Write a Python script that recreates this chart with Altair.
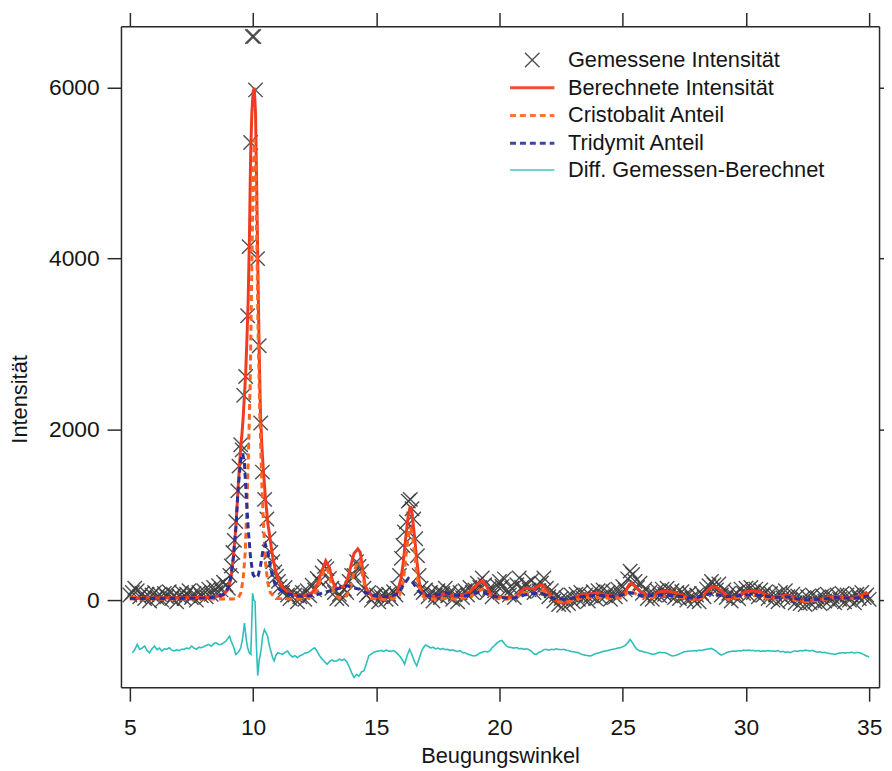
import altair as alt
import pandas as pd

FONT = "Liberation Sans"

S_MEAS = "Gemessene Intensität"
S_CALC = "Berechnete Intensität"
S_CRIS = "Cristobalit Anteil"
S_TRID = "Tridymit Anteil"
S_DIFF = "Diff. Gemessen-Berechnet"
series_names = [S_MEAS, S_CALC, S_CRIS, S_TRID, S_DIFF]
series_colors = ["#3c3c3c", "#f13a20", "#ff6421", "#2b2f9e", "#2dbfb9"]
series_dash = [[1, 0], [1, 0], [6, 4], [6, 4], [1, 0]]
series_width = [1.4, 3.0, 3.0, 3.0, 1.6]
series_shape = ["M-0.65,-0.65L0.65,0.65M-0.65,0.65L0.65,-0.65",
                "M-2,0L2,0", "M-2,0L2,0", "M-2,0L2,0", "M-2,0L2,0"]

x_ticks = [5, 10, 15, 20, 25, 30, 35]
y_ticks = [0, 2000, 4000, 6000]

# ---------------- measured intensity (X markers) ----------------
meas_a = [60, 90, 140, 110, 40, 80, 20, 70, -10, 60,
          90, 30, 70, 0, 80, 40, 100, 20, 60, -20,
          50, 90, 20, 70, 110, 30, 80, 0, 90, 50,
          110, 40, 130, 70, 150, 90, 170, 120, 210]          # 5.0 .. 8.8
peak1_x = [8.9, 9.0, 9.06, 9.12, 9.18, 9.24, 9.3, 9.38, 9.43, 9.5, 9.56, 9.62,
           9.7, 9.78, 9.84, 9.9, 9.97, 10.03, 10.1, 10.18, 10.25, 10.31, 10.38,
           10.47, 10.56, 10.65, 10.72, 10.8, 10.88, 10.95, 11.03, 11.1]
peak1_y = [180, 140, 290, 400, 560, 700, 920, 1280, 1570, 1820, 1760, 2400,
           2620, 3330, 4140, 5360, 6600, 6600, 5975, 4000, 2980, 2075, 1500,
           1180, 950, 720, 560, 450, 330, 280, 220, 160]
meas_b = [90, 150, 60, 20, 90, 60, -20, 40,
          90, 10, 110, 50, 175, 120, 255, 220, 320, 395,
          370, 255, 140, 90, 20, 70, 10, 130, 90, 220,
          290, 290, 450, 395, 335, 140, 60, 90, 0, 50,
          60, -20, 40, 80, 10, 70, 20, 100]                    # 11.2 .. 15.7
peak3_x = [15.8, 15.87, 15.94, 16.02, 16.08, 16.14, 16.22, 16.3, 16.38, 16.45,
           16.52, 16.6, 16.67, 16.74, 16.82, 16.9]
peak3_y = [60, 140, 290, 490, 640, 800, 915, 1160, 1180, 1070,
           950, 720, 520, 290, 140, 90]
meas_c = [120, 40, 90, -10, 60, 110, 30, 80, 140, 50,
          100, 10, 70, -20, 90, 30, 110, 60, 150, 90,
          120, 200, 150, 260, 180, 90, 140, 40, 110, 170,
          220, 160, 250, 120, 60, 140, 30, 180, 260, 150,
          100, 190, 120, 230, 90, 170, 110, 200, 260, 140,
          40, 110, -10, 60, -50, 20, -60, 30, -40, 60,
          -20, 70, 10, 90, 20, 60, -10, 50, 100, 20,
          110, 30, 120, 50, 90, 10, 100, 40, 130, 70,
          160, 120, 250, 340, 300, 220, 150, 200, 80, 130,
          20, 90, 10, 60, 110, 50, 130, 70, 140, 60,
          110, 30, 90, 20, 100, 50, 0, 80, 30, -10,
          60, -20, 80, 40, 130, 170, 220, 180, 120, 190,
          60, 120, 30, 80, -10, 50, 90, 20, 130, 80,
          140, 60, 150, 90, 130, 40, 120, 60, 100, 20,
          80, 0, 60, -20, 90, 30, 110, 40, 0, 70,
          -30, 50, -40, 20, -50, 40, -30, 60, -20, 30,
          -40, 50, -10, 70, 0, 40, -30, 60, 10, 80,
          -20, 60, 0, 50, -30, 70, 20, 90, 30, 60, 10]          # 17.0 .. 35.0

# ---------------- calculated intensity (red) ----------------
calc_x = [5.0, 5.5, 6.0, 6.5, 7.0, 7.5, 8.0, 8.5, 8.8, 9.0,
          9.1, 9.2, 9.3, 9.4, 9.5, 9.55, 9.6, 9.7, 9.75, 9.8,
          9.85, 9.9, 9.95, 10.0, 10.05, 10.1, 10.15, 10.2, 10.25, 10.3,
          10.35, 10.4, 10.5, 10.6, 10.7, 10.8, 10.9, 11.0, 11.1, 11.2,
          11.4, 11.6, 11.8, 12.0, 12.2, 12.4, 12.6, 12.8, 12.95, 13.1,
          13.2, 13.3, 13.4, 13.5, 13.6, 13.7, 13.8, 13.9, 14.0, 14.1,
          14.25, 14.35, 14.45, 14.55, 14.7, 14.9, 15.1, 15.3, 15.5, 15.7,
          15.85, 16.0, 16.1, 16.2, 16.3, 16.38, 16.45, 16.55, 16.65, 16.75,
          16.85, 17.0, 17.2, 17.4, 17.6, 17.8, 18.0, 18.2, 18.4, 18.6,
          18.8, 19.0, 19.2, 19.3, 19.45, 19.6, 19.8, 20.0, 20.2, 20.4,
          20.6, 20.8, 21.0, 21.2, 21.4, 21.6, 21.75, 21.9, 22.1, 22.3,
          22.5, 22.7, 22.9, 23.1, 23.3, 23.6, 23.9, 24.2, 24.5, 24.7,
          24.9, 25.1, 25.25, 25.35, 25.5, 25.7, 25.9, 26.1, 26.3, 26.5,
          26.8, 27.1, 27.3, 27.6, 27.9, 28.1, 28.3, 28.5, 28.65, 28.8,
          29.0, 29.2, 29.45, 29.7, 30.0, 30.3, 30.6, 30.9, 31.1, 31.4,
          31.6, 31.9, 32.1, 32.3, 32.6, 32.9, 33.2, 33.5, 33.7, 34.0,
          34.3, 34.6, 34.85, 35.0]
calc_y = [30, 25, 25, 25, 25, 30, 30, 40, 60, 130,
          260, 500, 850, 1350, 1800, 1950, 2150, 2650, 3050, 3500,
          4200, 5200, 5700, 5950, 6000, 5700, 4800, 3800, 2900, 2200,
          1850, 1600, 1200, 900, 700, 500, 360, 260, 200, 150,
          100, 70, 50, 50, 60, 90, 180, 350, 460, 380,
          250, 170, 140, 140, 150, 170, 220, 320, 440, 550,
          600, 560, 350, 170, 80, 35, 25, 30, 40, 50,
          90, 250, 450, 750, 1000, 1100, 1020, 750, 450, 200,
          90, 50, 45, 45, 60, 80, 60, 50, 55, 65,
          100, 160, 210, 220, 180, 90, 45, 40, 35, 30,
          25, 80, 140, 140, 130, 170, 180, 120, 50, -10,
          -30, -30, 0, 40, 60, 70, 80, 70, 50, 40,
          50, 90, 180, 200, 160, 100, 70, 45, 60, 100,
          105, 90, 65, 40, 10, 10, 60, 130, 160, 150,
          110, 60, 25, 60, 100, 110, 95, 50, 25, 45,
          60, 40, 0, -15, -5, 5, 20, 40, 45, 30,
          20, 50, 80, 70]

# ---------------- cristobalite share (orange dashed) ----------------
cris_x = [5.0, 6.0, 7.0, 8.0, 8.8, 9.2, 9.4, 9.5, 9.6, 9.68,
          9.75, 9.82, 9.88, 9.94, 10.0, 10.05, 10.1, 10.15, 10.2, 10.27,
          10.35, 10.42, 10.5, 10.6, 10.7, 10.85, 11.0, 11.5, 12.0, 12.4,
          12.6, 12.75, 12.88, 12.97, 13.06, 13.2, 13.35, 13.6, 13.8, 13.95,
          14.1, 14.25, 14.35, 14.45, 14.6, 14.8, 15.2, 15.7, 15.95, 16.1,
          16.2, 16.3, 16.38, 16.45, 16.55, 16.65, 16.8, 17.0, 17.4, 17.8,
          18.3, 18.8, 19.1, 19.3, 19.5, 19.8, 20.3, 20.8, 21.0, 21.3,
          21.5, 21.75, 22.0, 22.4, 22.8, 23.4, 24.0, 24.6, 25.0, 25.3,
          25.6, 26.0, 26.5, 26.9, 27.4, 28.0, 28.4, 28.65, 28.9, 29.3,
          29.8, 30.2, 30.6, 31.0, 31.5, 32.0, 32.5, 33.0, 33.6, 34.2,
          34.8, 35.0]
cris_y = [15, 15, 15, 15, 15, 15, 30, 80, 250, 550,
          1100, 1800, 2500, 3700, 4900, 5400, 5100, 4200, 3200, 2200,
          1400, 900, 450, 200, 90, 40, 20, 15, 15, 40,
          120, 250, 350, 380, 330, 150, 50, 20, 50, 150,
          330, 460, 440, 280, 80, 20, 10, 15, 60, 220,
          520, 760, 850, 800, 560, 280, 70, 20, 10, 20,
          10, 40, 90, 130, 80, 20, 10, 50, 90, 80,
          70, 120, 60, -20, -20, 30, 30, 20, 30, 120,
          60, 20, 50, 50, 30, 0, 50, 100, 70, 10,
          40, 60, 50, 10, 30, 0, -15, 0, 30, 10,
          40, 40]

# ---------------- tridymite share (blue dashed) ----------------
trid_x = [5.0, 6.0, 7.0, 8.0, 8.5, 8.8, 9.0, 9.1, 9.2, 9.3,
          9.4, 9.5, 9.58, 9.65, 9.72, 9.8, 9.9, 10.0, 10.1, 10.2,
          10.3, 10.4, 10.5, 10.6, 10.7, 10.8, 10.9, 11.0, 11.2, 11.4,
          11.7, 12.0, 12.5, 13.0, 13.3, 13.6, 13.8, 14.0, 14.3, 14.5,
          14.8, 15.2, 15.6, 15.9, 16.1, 16.3, 16.5, 16.7, 16.9, 17.3,
          17.8, 18.1, 18.6, 19.0, 19.3, 19.6, 20.0, 20.5, 21.0, 21.4,
          21.8, 22.2, 22.7, 23.3, 24.0, 24.7, 25.3, 25.8, 26.5, 27.2,
          27.9, 28.6, 29.2, 30.0, 30.6, 31.2, 31.7, 32.3, 33.0, 33.6,
          34.3, 35.0]
trid_y = [20, 20, 20, 25, 35, 70, 150, 280, 500, 830,
          1320, 1650, 1720, 1600, 1250, 850, 490, 300, 260, 280,
          400, 580, 650, 560, 400, 260, 180, 140, 100, 75,
          55, 45, 55, 100, 120, 150, 170, 150, 130, 100,
          60, 40, 45, 80, 180, 255, 200, 110, 60, 45,
          90, 60, 50, 80, 100, 60, 30, 20, 60, 80,
          70, 20, 10, 40, 60, 40, 90, 50, 60, 50,
          20, 80, 40, 60, 55, 30, 40, 0, 10, 30,
          20, 50]

# ---------------- difference curve (teal, offset) ----------------
diff_a = [-615, -580, -518, -576, -560, -537, -590, -615, -570,
          -537, -580, -560, -595, -570, -575, -557, -585, -595, -580,
          -590, -575, -576, -560, -570, -537, -560, -575, -550, -557,
          -545, -530, -518, -540, -510, -499, -520, -518, -500, -480]   # 5.1 .. 8.9
diffp1_x = [9.0, 9.05, 9.1, 9.2, 9.3, 9.4, 9.5, 9.58, 9.65, 9.72,
            9.78, 9.85, 9.91, 9.98, 10.03, 10.08, 10.13, 10.19, 10.25, 10.32,
            10.39, 10.46, 10.52, 10.59, 10.65, 10.72, 10.8, 10.86, 10.92, 11.0]
diffp1_y = [-440, -421, -470, -540, -634, -610, -560, -441, -267, -450,
            -557, -620, -634, 81, 0, -15, -500, -885, -700, -595,
            -420, -345, -380, -421, -520, -595, -680, -711, -650, -615]
diff_b = [-625, -634, -610, -595, -640, -665, -650, -673, -650,
          -640, -620, -615, -600, -575, -557, -600, -650, -690, -720,
          -750, -720, -700, -715, -711, -690, -705, -692, -720, -780,
          -850, -905, -870, -890, -840, -827, -740, -650, -630, -610,
          -600, -595, -590, -600, -585, -595, -600, -590, -610]          # 11.1 .. 15.8
diffp3_x = [15.9, 16.0, 16.1, 16.15, 16.25, 16.35, 16.45, 16.55, 16.64, 16.72, 16.82, 16.9]
diffp3_y = [-640, -673, -720, -750, -650, -576, -640, -720, -769, -700, -615, -560]
diff_c = [-525, -540, -560, -550, -570, -560, -576, -565, -580, -575,
          -590, -580, -595, -600, -590, -615, -615, -630, -640, -650,
          -653, -640, -620, -610, -600, -605, -595, -557, -530, -500,
          -480, -472, -510, -540, -550, -557, -560, -555, -570, -565,
          -576, -570, -580, -600, -630, -634, -610, -600, -580, -576,
          -585, -575, -580, -570, -576, -580, -576, -585, -590, -600,
          -605, -610, -615, -630, -640, -645, -650, -653, -640, -625,
          -620, -610, -600, -595, -590, -580, -575, -570, -560, -557,
          -545, -530, -500, -460, -500, -550, -580, -595, -600, -610,
          -615, -625, -634, -630, -620, -610, -615, -615, -625, -640,
          -653, -650, -642, -630, -615, -605, -600, -595, -595, -590,
          -595, -585, -590, -580, -575, -570, -565, -580, -600, -625,
          -642, -630, -615, -605, -600, -595, -600, -590, -595, -585,
          -590, -585, -590, -588, -595, -590, -600, -592, -598, -590,
          -595, -595, -600, -590, -605, -600, -610, -605, -615, -600,
          -595, -600, -590, -595, -585, -590, -595, -588, -600, -610,
          -605, -615, -610, -620, -625, -630, -634, -625, -620, -615,
          -620, -615, -615, -610, -618, -612, -615, -625, -640, -655, -665]  # 17.0 .. 35.0


def grid(start, n):
    return [round(start + 0.1 * i, 2) for i in range(n)]


def frame(xs, ys, name):
    rows = [{"x": a, "y": b, "series": name} for a, b in zip(xs, ys)]
    return pd.DataFrame(rows)


meas_x = grid(5.0, len(meas_a)) + peak1_x + grid(11.2, len(meas_b)) + peak3_x + grid(17.0, len(meas_c))
meas_y = meas_a + peak1_y + meas_b + peak3_y + meas_c
diff_x = grid(5.1, len(diff_a)) + diffp1_x + grid(11.1, len(diff_b)) + diffp3_x + grid(17.0, len(diff_c))
diff_y = diff_a + diffp1_y + diff_b + diffp3_y + diff_c

df_meas = frame(meas_x, meas_y, S_MEAS)
df_calc = frame(calc_x, calc_y, S_CALC)
df_cris = frame(cris_x, cris_y, S_CRIS)
df_trid = frame(trid_x, trid_y, S_TRID)
df_diff = frame(diff_x, diff_y, S_DIFF)

TXT = "#151515"
AX = "#2a2a2a"

legend = alt.Legend(title=None, orient="none", legendX=402, legendY=22,
                    symbolSize=500, labelFontSize=22, labelFont=FONT,
                    labelColor=TXT, labelOffset=23, rowPadding=4.0, padding=0,
                    labelLimit=400)

xscale = alt.Scale(domain=[4.64, 35.4], nice=False, zero=False)
yscale = alt.Scale(domain=[-1020, 6720], nice=False, zero=False)

common_axis = dict(grid=False, tickSize=14, tickWidth=1.5, tickColor=AX,
                   domainColor=AX, domainWidth=1.5, labelFont=FONT,
                   labelFontSize=23, labelColor=TXT, titleFont=FONT,
                   titleFontSize=22, titleFontWeight="normal", titleColor=TXT,
                   labelFlush=False, labelOverlap=False)

x_axis = alt.Axis(values=x_ticks, title="Beugungswinkel", labelPadding=16,
                  titlePadding=6, **common_axis)
y_axis = alt.Axis(values=y_ticks, format="d", title="Intensität", labelPadding=8,
                  titleAngle=270, titleX=-102, titleY=376, titleAlign="center",
                  titleBaseline="middle", **common_axis)
x_top = alt.Axis(values=x_ticks, orient="top", labels=False, title=None, **common_axis)
y_right = alt.Axis(values=y_ticks, orient="right", labels=False, title=None, **common_axis)

color = alt.Color("series:N", scale=alt.Scale(domain=series_names, range=series_colors), legend=legend)
shape = alt.Shape("series:N", scale=alt.Scale(domain=series_names, range=series_shape), legend=legend)
dash = alt.StrokeDash("series:N", scale=alt.Scale(domain=series_names, range=series_dash), legend=legend)
swidth = alt.StrokeWidth("series:N", scale=alt.Scale(type="ordinal", domain=series_names, range=series_width),
                         legend=legend)

X = alt.X("x:Q", scale=xscale, axis=x_axis)
Y = alt.Y("y:Q", scale=yscale, axis=y_axis)

meas = alt.Chart(df_meas).mark_point(filled=False, opacity=0.9, size=500).encode(
    x=X, y=Y, color=color, shape=shape, strokeWidth=swidth)


def line(df):
    return alt.Chart(df).mark_line().encode(
        x=X, y=Y, color=color, strokeDash=dash, strokeWidth=swidth, order="x:Q")


inner = alt.layer(meas, line(df_calc), line(df_cris), line(df_trid))

diff = alt.Chart(df_diff).mark_line().encode(
    x=alt.X("x:Q", scale=xscale, axis=x_top),
    y=alt.Y("y:Q", scale=yscale, axis=y_right),
    color=color, strokeDash=dash, strokeWidth=swidth, order="x:Q")

chart = alt.layer(inner, diff).resolve_axis(x="independent", y="independent").properties(
    width=765, height=667,
    padding={"left": 114, "top": 15, "right": 5, "bottom": 80},
    autosize=alt.AutoSizeParams(type="none"),
).configure_view(stroke=None).configure(background="white")

chart.save("out.html", embed_options={"renderer": "svg", "actions": False})
